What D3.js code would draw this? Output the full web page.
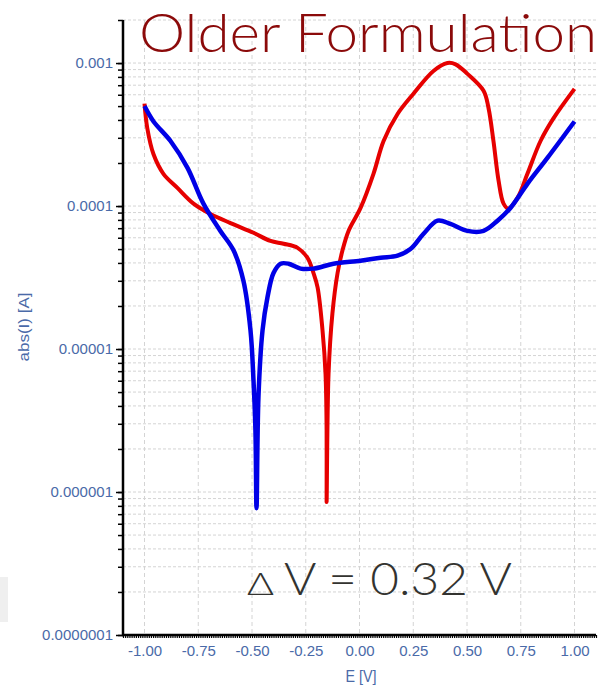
<!DOCTYPE html>
<html>
<head>
<meta charset="utf-8">
<script src="https://cdn.jsdelivr.net/npm/d3@7"></script>
<style>
  body { margin: 0; background: #fff; }
  .grafico text { font-family: "Liberation Sans", Arial, sans-serif; }
</style>
</head>
<body>
<div class="grafico"></div>
<script>
const width = 603, height = 687;

// potential (V) and abs current (A), older formulation
const redE = [-1.00, -0.987, -0.958, -0.912, -0.847, -0.772, -0.693, -0.600, -0.493, -0.414, -0.353, -0.288, -0.242, -0.214, -0.195, -0.172, -0.158, -0.153, -0.153, -0.144, -0.126, -0.102, -0.079, -0.051, 0.005, 0.065, 0.112, 0.177, 0.251, 0.344, 0.409, 0.447, 0.502, 0.577, 0.600, 0.623, 0.647, 0.670, 0.693, 0.735, 0.781, 0.842, 0.902, 1.00];
const redI = [5.2e-4, 3.5e-4, 2.3e-4, 1.68e-4, 1.34e-4, 1.04e-4, 8.8e-5, 7.6e-5, 6.5e-5, 5.7e-5, 5.45e-5, 5.1e-5, 4.35e-5, 3.4e-5, 2.7e-5, 1.35e-5, 6.7e-6, 2.7e-6, 8.5e-7, 6.7e-6, 1.77e-5, 3.4e-5, 4.9e-5, 6.7e-5, 9.7e-5, 1.68e-4, 2.85e-4, 4.4e-4, 6.1e-4, 8.8e-4, 1.0e-3, 9.8e-4, 8.4e-4, 6.4e-4, 4.85e-4, 2.85e-4, 1.5e-4, 1.04e-4, 9.6e-5, 1.14e-4, 1.68e-4, 2.85e-4, 4.1e-4, 6.6e-4];

const blueE = [-1.00, -0.958, -0.879, -0.800, -0.726, -0.647, -0.586, -0.540, -0.507, -0.493, -0.484, -0.479, -0.470, -0.451, -0.428, -0.400, -0.367, -0.330, -0.274, -0.214, -0.121, 0.005, 0.098, 0.177, 0.237, 0.298, 0.363, 0.423, 0.502, 0.577, 0.642, 0.702, 0.781, 0.874, 1.00];
const blueI = [5.0e-4, 3.9e-4, 2.85e-4, 1.85e-4, 1.04e-4, 6.7e-5, 4.9e-5, 3.0e-5, 1.35e-5, 6.0e-6, 2.7e-6, 7.7e-7, 4.6e-6, 1.35e-5, 2.3e-5, 3.4e-5, 3.95e-5, 3.95e-5, 3.65e-5, 3.65e-5, 3.95e-5, 4.15e-5, 4.35e-5, 4.5e-5, 5.0e-5, 6.4e-5, 7.9e-5, 7.5e-5, 6.7e-5, 6.7e-5, 7.9e-5, 9.7e-5, 1.43e-4, 2.17e-4, 3.9e-4];

const xTicks = [-1.00, -0.75, -0.50, -0.25, 0.00, 0.25, 0.50, 0.75, 1.00];
const yTicks = [1e-7, 1e-6, 1e-5, 1e-4, 1e-3];
const yTickLabels = ["0.0000001", "0.000001", "0.00001", "0.0001", "0.001"];

const mLeft = 123, mRight = 596, mTop = 20, mBottom = 635;
const tickColor = "#4a6aa8";

const svg = d3.select(".grafico")
    .append("svg")
    .attr("width", width)
    .attr("height", height);

// faint grey patch at the left edge
svg.append("rect")
    .attr("x", 0).attr("y", 577)
    .attr("width", 8).attr("height", 45)
    .attr("fill", "#efefef");

const x = d3.scaleLinear()
    .domain([-1.1, 1.1])
    .range([mLeft, mRight]);

const y = d3.scaleLog()
    .domain([1e-7, 2e-3])
    .range([mBottom, mTop]);

// minor decade values 1..9
let minorY = [];
yTicks.forEach(d => {
    for (let k = 1; k <= 9; k++) {
        const v = d * k;
        if (v <= 2e-3) minorY.push(v);
    }
});

// grid
const grid = svg.append("g").attr("class", "grid");
grid.selectAll(".hgrid")
    .data(minorY)
    .enter().append("line")
    .attr("x1", mLeft).attr("x2", mRight)
    .attr("y1", d => y(d)).attr("y2", d => y(d))
    .attr("stroke", "#d4d4d4")
    .attr("stroke-width", 1)
    .attr("stroke-dasharray", "3,2");
grid.selectAll(".vgrid")
    .data(xTicks)
    .enter().append("line")
    .attr("x1", d => x(d)).attr("x2", d => x(d))
    .attr("y1", mTop).attr("y2", mBottom)
    .attr("stroke", "#d4d4d4")
    .attr("stroke-width", 1)
    .attr("stroke-dasharray", "4,3");

// y axis
const yAxisMinor = d3.axisLeft(y)
    .tickValues(minorY)
    .tickSize(5)
    .tickFormat("");
const gyMinor = svg.append("g")
    .attr("transform", `translate(${mLeft},0)`)
    .call(yAxisMinor);
gyMinor.select(".domain").remove();
gyMinor.selectAll("line").attr("stroke", "#000").attr("stroke-width", 1.5);

const yAxis = d3.axisLeft(y)
    .tickValues(yTicks)
    .tickSize(7)
    .tickPadding(3)
    .tickFormat((d, i) => yTickLabels[i]);
const gy = svg.append("g")
    .attr("transform", `translate(${mLeft},0)`)
    .call(yAxis);
gy.select(".domain").remove();
gy.selectAll("line").attr("stroke", "#000").attr("stroke-width", 1.5);
gy.selectAll("text")
    .attr("fill", tickColor)
    .style("font-size", "15px");

// x axis
const xAxisMinor = d3.axisBottom(x)
    .tickValues(d3.range(-110, 111, 1).map(d => d / 100))
    .tickSize(3)
    .tickFormat("");
const gxMinor = svg.append("g")
    .attr("transform", `translate(0,${mBottom})`)
    .call(xAxisMinor);
gxMinor.select(".domain").remove();
gxMinor.selectAll("line").attr("stroke", "#000").attr("stroke-width", 1.2);

const xAxis = d3.axisBottom(x)
    .tickValues(xTicks)
    .tickSize(0)
    .tickPadding(10)
    .tickFormat(d => d3.format(".2f")(d).replace("−", "-"));
const gx = svg.append("g")
    .attr("transform", `translate(0,${mBottom})`)
    .call(xAxis);
gx.select(".domain").remove();
gx.selectAll("text")
    .attr("fill", tickColor)
    .style("font-size", "15px");

// axis lines
svg.append("line")
    .attr("x1", mLeft).attr("x2", mLeft)
    .attr("y1", mTop).attr("y2", mBottom + 1)
    .attr("stroke", "#000").attr("stroke-width", 2.5);
svg.append("line")
    .attr("x1", mLeft - 1).attr("x2", mRight)
    .attr("y1", mBottom).attr("y2", mBottom)
    .attr("stroke", "#000").attr("stroke-width", 2.5);

// axis titles
svg.append("text")
    .attr("transform", "translate(29,327) rotate(-90)")
    .attr("text-anchor", "middle")
    .attr("fill", tickColor)
    .attr("textLength", 69)
    .attr("lengthAdjust", "spacingAndGlyphs")
    .style("font-size", "14px")
    .text("abs(I) [A]");
svg.append("text")
    .attr("x", 361).attr("y", 682)
    .attr("text-anchor", "middle")
    .attr("fill", tickColor)
    .attr("textLength", 31)
    .attr("lengthAdjust", "spacingAndGlyphs")
    .style("font-size", "16px")
    .text("E [V]");

// curves
const line = d3.line()
    .x(d => x(d[0]))
    .y(d => y(d[1]))
    .curve(d3.curveCatmullRom.alpha(0.5));

const redData = redE.map((e, i) => [e, redI[i]]);
const blueData = blueE.map((e, i) => [e, blueI[i]]);

svg.append("path")
    .datum(redData)
    .attr("d", line)
    .attr("fill", "none")
    .attr("stroke", "#e60000")
    .attr("stroke-width", 4)
    .attr("stroke-linejoin", "round");

svg.append("path")
    .datum(blueData)
    .attr("d", line)
    .attr("fill", "none")
    .attr("stroke", "#0000e6")
    .attr("stroke-width", 4.5)
    .attr("stroke-linejoin", "round");

// title
svg.append("text")
    .attr("x", 139).attr("y", 52)
    .attr("fill", "#8b0a0a")
    .attr("textLength", 458)
    .attr("lengthAdjust", "spacingAndGlyphs")
    .style("font-family", "Lato, 'Open Sans', sans-serif")
    .style("font-weight", 300)
    .style("font-size", "54px")
    .text("Older Formulation");

// delta V annotation
svg.append("text")
    .attr("x", 247).attr("y", 595)
    .attr("fill", "#333330")
    .attr("textLength", 27)
    .attr("lengthAdjust", "spacingAndGlyphs")
    .style("font-family", "Lato, 'Open Sans', sans-serif")
    .style("font-weight", 300)
    .style("font-size", "31px")
    .text("Δ");
svg.append("text")
    .attr("x", 284).attr("y", 595)
    .attr("fill", "#333330")
    .attr("textLength", 228)
    .attr("lengthAdjust", "spacingAndGlyphs")
    .style("font-family", "Lato, 'Open Sans', sans-serif")
    .style("font-weight", 300)
    .style("font-size", "46px")
    .text("V = 0.32 V");
</script>
</body>
</html>
